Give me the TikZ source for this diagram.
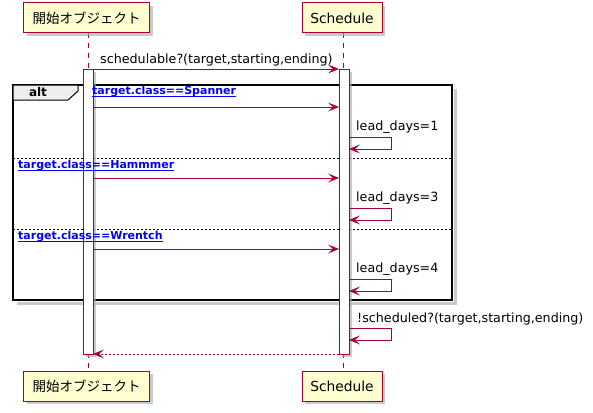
\documentclass[tikz,border=0pt]{standalone}
\usepackage{fontspec}
\setmainfont{DejaVu Sans}
\newfontfamily\jpfont{Noto Sans CJK JP}
\usetikzlibrary{arrows.meta,shadows}
\definecolor{pborder}{HTML}{A80036}
\definecolor{pfill}{HTML}{FEFECE}
\definecolor{guardblue}{HTML}{0000FF}
\definecolor{tabgrey}{HTML}{EEEEEE}
\begin{document}
\begin{tikzpicture}[x=1pt,y=-1pt,
  shade1/.style={drop shadow={shadow xshift=3pt,shadow yshift=-3pt,fill=black!35,opacity=0.6}},
  part/.style={draw=pborder,fill=pfill,line width=1pt,minimum height=30pt,inner sep=0pt,shade1},
  actbar/.style={draw=pborder,fill=white,line width=1pt,shade1},
  lifeline/.style={draw=pborder,line width=0.8pt,dash pattern=on 5pt off 5pt},
  tip/.style={-{Stealth[length=11pt,width=9pt,inset=5pt]}},
  msg/.style={draw=pborder,line width=1pt,tip},
  retmsg/.style={draw=pborder,line width=1pt,dash pattern=on 2pt off 2pt,tip},
  msgtext/.style={anchor=west,inner sep=0pt,font=\fontsize{12.7}{15}\selectfont},
  guardtext/.style={anchor=west,inner sep=0pt,text=guardblue,font=\bfseries\fontsize{11}{13}\selectfont},
  uline/.style={draw=guardblue,line width=1pt},
  sep/.style={draw=black,line width=0.8pt,dash pattern=on 2pt off 2pt},
  altframe/.style={draw=black,line width=1.8pt},
  frameshadow/.style={draw=black!30,line width=2.5pt,opacity=0.7}
]
\useasboundingbox (0,0) rectangle (593,412);

% lifelines
\coordinate (LA) at (88,33);
\coordinate (LAe) at (88,371);
\coordinate (LB) at (343,33);
\coordinate (LBe) at (343,371);
\draw[lifeline] (LA) -- (LAe);
\draw[lifeline] (LB) -- (LBe);

% participants
\node[part,minimum width=126pt,font=\jpfont\fontsize{13.5}{16}\selectfont] (pa) at (86.5,18) {開始オブジェクト};
\node[part,minimum width=80pt,font=\fontsize{13.8}{16}\selectfont] (pb) at (342,18) {Schedule};
\node[part,minimum width=126pt,font=\jpfont\fontsize{13.5}{16}\selectfont] (pa2) at (86.5,386) {開始オブジェクト};
\node[part,minimum width=80pt,font=\fontsize{13.8}{16}\selectfont] (pb2) at (342,386) {Schedule};

% alt frame
\coordinate (fA) at (13,85); \coordinate (fB) at (452,300);
\draw[frameshadow] (455.5,89) -- (455.5,303.5) -- (17,303.5);
\draw[altframe] (fA) rectangle (fB);
\draw[fill=tabgrey,draw=black,line width=1pt] (13,85) -- (78,85) -- (78,91) -- (68,100) -- (13,100) -- cycle;
\node[font=\bfseries\fontsize{12}{14}\selectfont,inner sep=0pt] (alt) at (38,92.5) {alt};
\coordinate (s1a) at (13,158); \coordinate (s1b) at (452,158);
\coordinate (s2a) at (13,229); \coordinate (s2b) at (452,229);
\draw[sep] (s1a) -- (s1b);
\draw[sep] (s2a) -- (s2b);

% activation bars
\draw[actbar] (83,69) rectangle (93,354);
\draw[actbar] (339,69) rectangle (349,354);

% message 1
\coordinate (m1a) at (88,69); \coordinate (m1b) at (339,69);
\draw[msg] (m1a) -- (m1b);
\node[msgtext] (t1) at (100,60) {schedulable?(target,starting,ending)};

% Spanner
\node[guardtext] (g1) at (92,92) {target.class==Spanner};
\draw[uline] ([yshift=-2pt]g1.base west) -- ([yshift=-2pt]g1.base east);
\coordinate (m2a) at (93,107); \coordinate (m2b) at (339,107);
\draw[msg] (m2a) -- (m2b);
\node[msgtext] (t2) at (356,127.5) {lead\_days=1};
\coordinate (l1a) at (349,137); \coordinate (l1b) at (349,149);
\draw[msg] (l1a) -- (391,137) -- (391,149) -- (l1b);

% Hammmer
\node[guardtext] (g2) at (18,165.5) {target.class==Hammmer};
\draw[uline] ([yshift=-2pt]g2.base west) -- ([yshift=-2pt]g2.base east);
\coordinate (m3a) at (93,178); \coordinate (m3b) at (339,178);
\draw[msg] (m3a) -- (m3b);
\node[msgtext] (t3) at (356,198.5) {lead\_days=3};
\coordinate (l3a) at (349,208); \coordinate (l3b) at (349,220);
\draw[msg] (l3a) -- (391,208) -- (391,220) -- (l3b);

% Wrentch
\node[guardtext] (g3) at (18,236.5) {target.class==Wrentch};
\draw[uline] ([yshift=-2pt]g3.base west) -- ([yshift=-2pt]g3.base east);
\coordinate (m4a) at (93,249); \coordinate (m4b) at (339,249);
\draw[msg] (m4a) -- (m4b);
\node[msgtext] (t4) at (356,269.5) {lead\_days=4};
\coordinate (l4a) at (349,279); \coordinate (l4b) at (349,291);
\draw[msg] (l4a) -- (391,279) -- (391,291) -- (l4b);

% !scheduled?
\node[msgtext] (t5) at (357,318.5) {!scheduled?(target,starting,ending)};
\coordinate (l5a) at (349,328); \coordinate (l5b) at (349,340);
\draw[msg] (l5a) -- (391,328) -- (391,340) -- (l5b);

% return
\coordinate (r1a) at (339,354); \coordinate (r1b) at (93,354);
\draw[retmsg] (r1a) -- (r1b);
\end{tikzpicture}
\end{document}
